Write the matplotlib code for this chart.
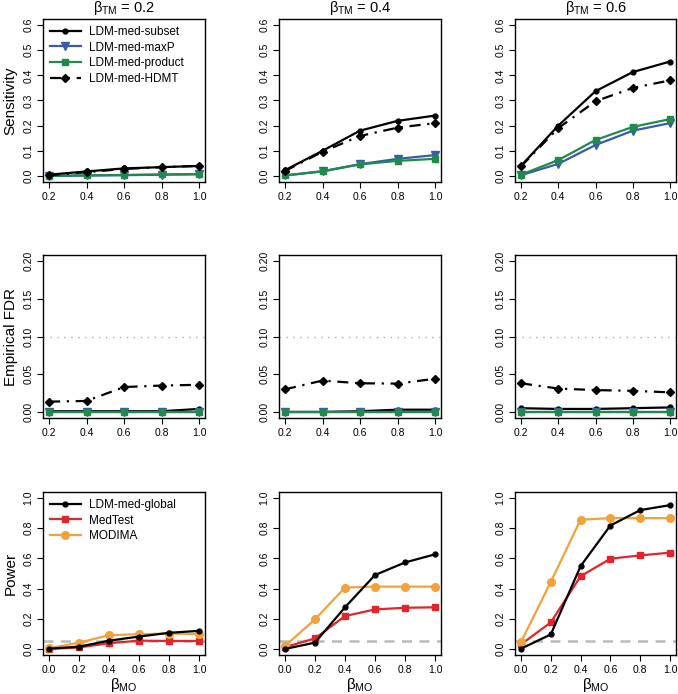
import matplotlib
matplotlib.use("Agg")
import matplotlib.pyplot as plt
import numpy as np

plt.rcParams['font.family'] = ['Liberation Sans', 'DejaVu Sans']
plt.rcParams['mathtext.fontset'] = 'custom'
plt.rcParams['mathtext.rm'] = 'Liberation Sans'
plt.rcParams['mathtext.it'] = 'Liberation Sans'

# x values
beta_mo_top = [0.2, 0.4, 0.6, 0.8, 1.0]
beta_mo_power = [0.0, 0.2, 0.4, 0.6, 0.8, 1.0]
beta_tm = [0.2, 0.4, 0.6]

# sensitivity, one list per beta_TM
sens_subset = [[0.005, 0.018, 0.030, 0.035, 0.040],
               [0.023, 0.100, 0.180, 0.219, 0.240],
               [0.040, 0.200, 0.337, 0.413, 0.455]]
sens_maxp = [[0.000, 0.002, 0.003, 0.005, 0.007],
             [0.002, 0.019, 0.047, 0.068, 0.083],
             [0.003, 0.048, 0.123, 0.180, 0.210]]
sens_product = [[0.000, 0.002, 0.004, 0.006, 0.007],
                [0.002, 0.018, 0.046, 0.060, 0.068],
                [0.005, 0.063, 0.143, 0.195, 0.226]]
sens_hdmt = [[0.003, 0.015, 0.028, 0.035, 0.040],
             [0.020, 0.096, 0.159, 0.192, 0.210],
             [0.038, 0.190, 0.297, 0.350, 0.380]]

# empirical FDR
fdr_subset = [[0.001, 0.001, 0.001, 0.001, 0.004],
              [0.000, 0.000, 0.001, 0.003, 0.003],
              [0.005, 0.004, 0.004, 0.005, 0.006]]
fdr_maxp = [[0.0, 0.0, 0.0, 0.0, 0.0],
            [0.0, 0.0, 0.0, 0.0, 0.0],
            [0.0, 0.0, 0.0, 0.0, 0.0]]
fdr_product = [[0.0, 0.0, 0.0, 0.0, 0.0],
               [0.0, 0.0, 0.0, 0.0, 0.0],
               [0.0, 0.0, 0.0, 0.0, 0.0]]
fdr_hdmt = [[0.0137, 0.0146, 0.033, 0.035, 0.036],
            [0.030, 0.0416, 0.038, 0.0376, 0.044],
            [0.038, 0.031, 0.029, 0.028, 0.026]]

# power
pow_global = [[0.002, 0.015, 0.055, 0.082, 0.107, 0.120],
              [0.000, 0.042, 0.276, 0.490, 0.573, 0.627],
              [0.002, 0.096, 0.549, 0.818, 0.920, 0.953]]
pow_medtest = [[0.000, 0.010, 0.038, 0.055, 0.053, 0.053],
               [0.012, 0.070, 0.218, 0.262, 0.273, 0.276],
               [0.030, 0.176, 0.482, 0.598, 0.620, 0.638]]
pow_modima = [[0.005, 0.042, 0.091, 0.098, 0.102, 0.098],
              [0.020, 0.196, 0.407, 0.413, 0.413, 0.413],
              [0.045, 0.444, 0.856, 0.867, 0.867, 0.867]]

BLUE = '#3A5BA9'
GREEN = '#1F8A4C'
RED = '#E0262B'
ORANGE = '#F2A23A'

W, H = 678, 694
fig = plt.figure(figsize=(W / 100, H / 100), dpi=100)

col_left = [43, 279, 515]
col_w = [162, 162, 161]
row_top = [19, 255, 492]
row_h = 163


def make_ax(r, c):
    left = col_left[c] / W
    bottom = 1 - (row_top[r] + row_h) / H
    return fig.add_axes([left, bottom, col_w[c] / W, row_h / H])


def style(ax, xlo, xhi, ylo, yhi, xt, yt, yfmt):
    dx = (xhi - xlo) * 0.04
    dy = (yhi - ylo) * 0.04
    ax.set_xlim(xlo - dx, xhi + dx)
    ax.set_ylim(ylo - dy, yhi + dy)
    ax.set_xticks(xt)
    ax.set_xticklabels(['%.1f' % v for v in xt])
    ax.set_yticks(yt)
    ax.set_yticklabels([yfmt % v for v in yt], rotation=90, va='center')
    ax.tick_params(labelsize=7.5, length=4, width=0.8, pad=3)
    for s in ax.spines.values():
        s.set_linewidth(1.0)


legend_kw = dict(loc='upper left', frameon=False, fontsize=8.5, handlelength=2.6,
                 borderaxespad=0.2, labelspacing=0.3, handletextpad=0.7)

for c in range(3):
    # sensitivity
    ax = make_ax(0, c)
    ax.plot(beta_mo_top, sens_subset[c], color='black', lw=1.6, marker='o', ms=3.5,
            label='LDM-med-subset', zorder=4)
    ax.plot(beta_mo_top, sens_maxp[c], color=BLUE, lw=1.6, marker='v', ms=5.5,
            label='LDM-med-maxP', zorder=3)
    ax.plot(beta_mo_top, sens_product[c], color=GREEN, lw=1.6, marker='s', ms=5,
            label='LDM-med-product', zorder=3)
    ax.plot(beta_mo_top, sens_hdmt[c], color='black', lw=1.6, ls=(0, (5, 3, 1, 3)),
            marker='D', ms=4.5, label='LDM-med-HDMT', zorder=4)
    style(ax, 0.2, 1.0, 0.0, 0.6, beta_mo_top, np.arange(0, 0.61, 0.1), '%.1f')
    ax.set_title(r'$\beta_{TM}$ = %.1f' % beta_tm[c], fontsize=10.5, pad=5)
    if c == 0:
        ax.set_ylabel('Sensitivity', fontsize=11)
        ax.legend(**legend_kw)

    # empirical FDR
    ax = make_ax(1, c)
    ax.axhline(0.1, color='#AAAAAA', lw=1.0, ls=(0, (1, 4)))
    ax.plot(beta_mo_top, fdr_maxp[c], color=BLUE, lw=1.6, marker='v', ms=5.5, zorder=3)
    ax.plot(beta_mo_top, fdr_product[c], color=GREEN, lw=1.6, marker='s', ms=5, zorder=3)
    ax.plot(beta_mo_top, fdr_subset[c], color='black', lw=1.6, marker='o', ms=3.5, zorder=2)
    ax.plot(beta_mo_top, fdr_hdmt[c], color='black', lw=1.6, ls=(0, (5, 3, 1, 3)),
            marker='D', ms=4.5, zorder=4)
    style(ax, 0.2, 1.0, 0.0, 0.2, beta_mo_top, np.arange(0, 0.201, 0.05), '%.2f')
    if c == 0:
        ax.set_ylabel('Empirical FDR', fontsize=11)

    # power
    ax = make_ax(2, c)
    ax.axhline(0.05, color='#BBBBBB', lw=1.8, ls=(0, (4, 3)))
    ax.plot(beta_mo_power, pow_global[c], color='black', lw=1.6, marker='o', ms=3.5,
            label='LDM-med-global', zorder=4)
    ax.plot(beta_mo_power, pow_medtest[c], color=RED, lw=1.6, marker='s', ms=5,
            label='MedTest', zorder=3)
    ax.plot(beta_mo_power, pow_modima[c], color=ORANGE, lw=1.6, marker='o', ms=5.5,
            label='MODIMA', zorder=3)
    style(ax, 0.0, 1.0, 0.0, 1.0, beta_mo_power, np.arange(0, 1.01, 0.2), '%.1f')
    ax.set_xlabel(r'$\beta_{MO}$', fontsize=11, labelpad=1)
    if c == 0:
        ax.set_ylabel('Power', fontsize=11)
        ax.legend(**legend_kw)

fig.savefig('out.png', dpi=100)
